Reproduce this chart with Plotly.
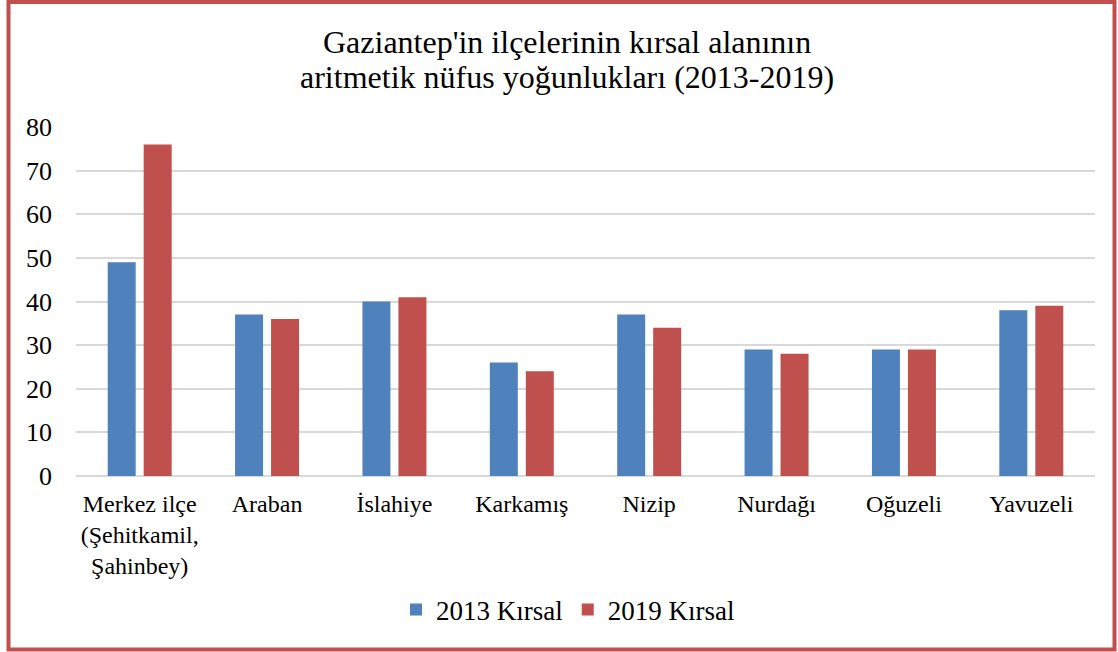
import plotly.graph_objects as go

districts = [
    "Merkez ilçe<br>(Şehitkamil,<br>Şahinbey)",
    "Araban",
    "İslahiye",
    "Karkamış",
    "Nizip",
    "Nurdağı",
    "Oğuzeli",
    "Yavuzeli",
]
rural_2013 = [49, 37, 40, 26, 37, 29, 29, 38]
rural_2019 = [76, 36, 41, 24, 34, 28, 29, 39]
series_names = ["2013 Kırsal", "2019 Kırsal"]
y_ticks = [0, 10, 20, 30, 40, 50, 60, 70, 80]
title_lines = ["Gaziantep'in ilçelerinin kırsal alanının",
               "aritmetik nüfus yoğunlukları (2013-2019)"]

W, H = 1118, 652
L, R, T, B = 76, 23, 127, 176
pw, ph = W - L - R, H - T - B

def px_x(x):
    return (x - L) / pw

def px_y(y):
    return (H - B - y) / ph

FONT = "Liberation Serif"

fig = go.Figure()
fig.add_trace(go.Bar(x=districts, y=rural_2013, name=series_names[0],
                     marker=dict(color="#4F81BD", line=dict(width=0))))
fig.add_trace(go.Bar(x=districts, y=rural_2019, name=series_names[1],
                     marker=dict(color="#C0504D", line=dict(width=0))))

fig.update_layout(
    width=W, height=H,
    margin=dict(l=L, r=R, t=T, b=B),
    paper_bgcolor="white", plot_bgcolor="white",
    font=dict(family=FONT, size=24, color="black"),
    barmode="group", bargap=0.435, bargroupgap=0.222,
    showlegend=True,
    legend=dict(orientation="h", x=px_x(568), xanchor="center",
                y=px_y(610), yanchor="middle",
                font=dict(family=FONT, size=27), itemwidth=30,
                traceorder="normal"),
    xaxis=dict(showgrid=False, showline=False, ticks="",
               tickfont=dict(family=FONT, size=24), tickangle=0,
               ticklabelstandoff=11),
    yaxis=dict(range=[0, 80], tickvals=y_ticks, showgrid=True,
               gridcolor="#D9D9D9", gridwidth=2, zeroline=True,
               zerolinecolor="#D9D9D9", zerolinewidth=2, showline=False,
               ticks="", ticklabelstandoff=23,
               tickfont=dict(family=FONT, size=26)),
    annotations=[
        dict(text=line, xref="paper", yref="paper", x=px_x(567), y=px_y(yc),
             xanchor="center", yanchor="middle", showarrow=False,
             font=dict(family=FONT, size=32, color="black"))
        for line, yc in zip(title_lines, [42, 77])
    ],
    shapes=[dict(type="rect", xref="paper", yref="paper",
                 x0=px_x(8.5), x1=px_x(1114.5), y0=px_y(2), y1=px_y(649.5),
                 line=dict(color="#C0504D", width=4), fillcolor="rgba(0,0,0,0)",
                 layer="above")],
)

fig.write_html("out.html")
